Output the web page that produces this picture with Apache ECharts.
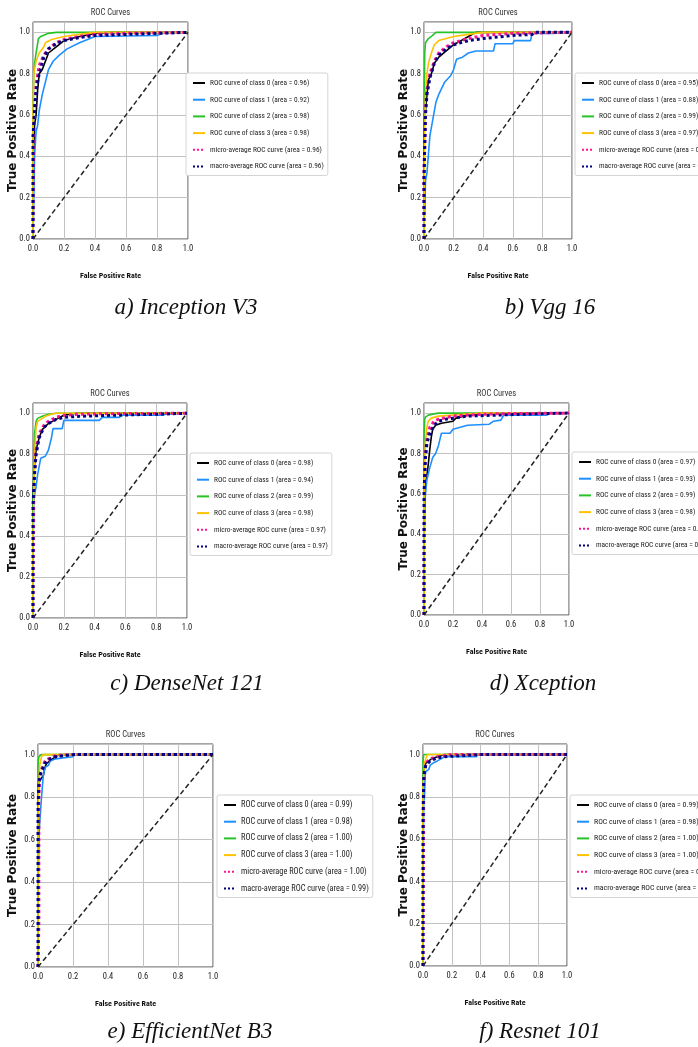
<!DOCTYPE html>
<html><head><meta charset="utf-8">
<script src="https://cdn.jsdelivr.net/npm/echarts@6/dist/echarts.min.js"></script>
<style>html,body{margin:0;padding:0;background:#fff}#c{width:698px;height:1047px}</style>
</head><body><div id="c"></div>
<script>
// ---------- DATA ----------
const captions = ['a) Inception V3', 'b) Vgg 16', 'c) DenseNet 121', 'd) Xception', 'e) EfficientNet B3', 'f) Resnet 101'];
const panelTitle = 'ROC Curves';
const xAxisName = 'False Positive Rate';
const yAxisName = 'True Positive Rate';
const tickValues = [0, 0.2, 0.4, 0.6, 0.8, 1.0];

const inceptionAuc = ['0.96', '0.92', '0.98', '0.98', '0.96', '0.96'];
const vggAuc = ['0.95', '0.88', '0.99', '0.97', '0.96', '0.95'];
const densenetAuc = ['0.98', '0.94', '0.99', '0.98', '0.97', '0.97'];
const xceptionAuc = ['0.97', '0.93', '0.99', '0.98', '0.97', '0.97'];
const efficientAuc = ['0.99', '0.98', '1.00', '1.00', '1.00', '0.99'];
const resnetAuc = ['0.99', '0.98', '1.00', '1.00', '0.99', '0.99'];

const diagonal = [[0, 0], [1, 1]];

// a) Inception V3
const inception_c0 = [[0,0],[0,0.3],[0.01,0.55],[0.02,0.6],[0.03,0.72],[0.04,0.8],[0.06,0.82],[0.08,0.86],[0.1,0.9],[0.15,0.93],[0.2,0.96],[0.3,0.98],[0.4,0.995],[0.5,1],[1,1]];
const inception_c1 = [[0,0],[0.005,0.2],[0.01,0.4],[0.02,0.52],[0.03,0.55],[0.04,0.62],[0.06,0.7],[0.08,0.76],[0.1,0.82],[0.13,0.86],[0.17,0.89],[0.22,0.92],[0.3,0.95],[0.4,0.98],[0.8,0.985],[0.85,1],[1,1]];
const inception_c2 = [[0,0],[0,0.55],[0.005,0.8],[0.01,0.85],[0.02,0.9],[0.035,0.97],[0.05,0.98],[0.1,0.995],[0.15,1],[1,1]];
const inception_c3 = [[0,0],[0,0.6],[0.005,0.8],[0.02,0.86],[0.04,0.9],[0.07,0.93],[0.08,0.95],[0.12,0.965],[0.2,0.98],[0.3,0.99],[0.4,1],[1,1]];
const inception_micro = [[0,0],[0,0.05],[0.005,0.5],[0.01,0.62],[0.02,0.75],[0.04,0.84],[0.07,0.89],[0.1,0.92],[0.15,0.95],[0.2,0.965],[0.3,0.98],[0.4,0.99],[0.6,0.995],[1,1]];
const inception_macro = [[0,0],[0,0.5],[0.01,0.62],[0.02,0.72],[0.04,0.8],[0.07,0.88],[0.1,0.92],[0.15,0.945],[0.2,0.96],[0.3,0.975],[0.4,0.985],[0.6,0.99],[0.8,0.995],[1,1]];

// b) Vgg 16
const vgg_c0 = [[0,0],[0,0.6],[0.01,0.62],[0.02,0.7],[0.03,0.77],[0.05,0.8],[0.07,0.85],[0.1,0.88],[0.15,0.91],[0.2,0.94],[0.25,0.96],[0.3,0.98],[0.35,1],[1,1]];
const vgg_c1 = [[0,0],[0,0.1],[0.005,0.13],[0.01,0.28],[0.02,0.32],[0.04,0.5],[0.06,0.58],[0.08,0.66],[0.1,0.7],[0.14,0.76],[0.18,0.79],[0.2,0.82],[0.22,0.87],[0.26,0.88],[0.3,0.9],[0.35,0.91],[0.47,0.91],[0.48,0.945],[0.6,0.945],[0.61,0.96],[0.72,0.96],[0.73,0.995],[0.85,0.995],[1,1]];
const vgg_c2 = [[0,0],[0,0.6],[0.005,0.9],[0.01,0.95],[0.03,0.97],[0.05,0.98],[0.08,1],[1,1]];
const vgg_c3 = [[0,0],[0,0.15],[0.005,0.5],[0.01,0.7],[0.02,0.8],[0.03,0.85],[0.05,0.9],[0.07,0.94],[0.1,0.96],[0.15,0.97],[0.2,0.98],[0.3,0.99],[0.4,1],[1,1]];
const vgg_micro = [[0,0],[0,0.3],[0.01,0.62],[0.02,0.72],[0.04,0.8],[0.07,0.86],[0.1,0.9],[0.15,0.93],[0.2,0.95],[0.3,0.97],[0.4,0.985],[0.6,0.995],[1,1]];
const vgg_macro = [[0,0],[0,0.3],[0.01,0.6],[0.02,0.7],[0.04,0.78],[0.07,0.85],[0.1,0.89],[0.15,0.92],[0.2,0.94],[0.3,0.96],[0.4,0.97],[0.6,0.985],[0.73,0.99],[0.75,1],[1,1]];

// c) DenseNet 121
const densenet_c0 = [[0,0],[0,0.6],[0.01,0.75],[0.02,0.82],[0.04,0.88],[0.06,0.92],[0.1,0.95],[0.15,0.97],[0.2,0.99],[0.28,1],[1,1]];
const densenet_c1 = [[0,0],[0,0.3],[0.005,0.55],[0.01,0.6],[0.02,0.64],[0.03,0.7],[0.05,0.78],[0.08,0.79],[0.1,0.82],[0.12,0.88],[0.13,0.925],[0.19,0.925],[0.2,0.965],[0.43,0.965],[0.45,0.98],[0.56,0.98],[0.58,0.99],[0.84,0.99],[0.86,0.995],[1,1]];
const densenet_c2 = [[0,0],[0,0.5],[0.005,0.8],[0.01,0.9],[0.02,0.96],[0.03,0.975],[0.06,0.985],[0.1,0.995],[0.15,1],[1,1]];
const densenet_c3 = [[0,0],[0,0.4],[0.01,0.8],[0.02,0.93],[0.03,0.96],[0.05,0.97],[0.08,0.985],[0.12,0.995],[0.15,1],[1,1]];
const densenet_micro = [[0,0],[0,0.1],[0.005,0.6],[0.01,0.72],[0.02,0.82],[0.04,0.9],[0.07,0.94],[0.1,0.96],[0.15,0.98],[0.2,0.99],[0.3,0.995],[0.5,0.998],[1,1]];
const densenet_macro = [[0,0],[0,0.55],[0.01,0.7],[0.02,0.8],[0.04,0.88],[0.07,0.93],[0.1,0.95],[0.15,0.97],[0.2,0.98],[0.3,0.985],[0.5,0.99],[0.8,0.995],[1,1]];

// d) Xception
const xception_c0 = [[0,0],[0,0.5],[0.01,0.65],[0.02,0.69],[0.03,0.75],[0.04,0.82],[0.05,0.88],[0.06,0.92],[0.08,0.94],[0.12,0.95],[0.2,0.96],[0.22,0.975],[0.3,0.99],[0.4,1],[1,1]];
const xception_c1 = [[0,0],[0,0.3],[0.005,0.5],[0.01,0.6],[0.02,0.67],[0.04,0.73],[0.06,0.78],[0.08,0.8],[0.1,0.84],[0.12,0.9],[0.18,0.9],[0.2,0.92],[0.25,0.93],[0.3,0.94],[0.45,0.945],[0.48,0.96],[0.53,0.965],[0.55,0.99],[0.85,0.99],[0.86,1],[1,1]];
const xception_c2 = [[0,0],[0,0.88],[0.005,0.97],[0.01,0.98],[0.03,0.99],[0.06,0.995],[0.1,1],[1,1]];
const xception_c3 = [[0,0],[0,0.6],[0.01,0.86],[0.02,0.93],[0.03,0.96],[0.05,0.975],[0.1,0.985],[0.2,0.99],[0.3,0.995],[0.4,1],[1,1]];
const xception_micro = [[0,0],[0,0.2],[0.005,0.7],[0.01,0.8],[0.02,0.87],[0.04,0.93],[0.07,0.96],[0.1,0.97],[0.2,0.985],[0.3,0.99],[0.5,0.997],[1,1]];
const xception_macro = [[0,0],[0,0.6],[0.01,0.78],[0.02,0.85],[0.04,0.9],[0.07,0.94],[0.1,0.96],[0.15,0.97],[0.2,0.975],[0.3,0.985],[0.5,0.99],[0.8,0.997],[1,1]];

// e) EfficientNet B3
const efficient_c0 = [[0,0],[0,0.8],[0.005,0.87],[0.02,0.89],[0.03,0.9],[0.04,0.94],[0.05,0.96],[0.07,0.97],[0.09,0.985],[0.12,1],[1,1]];
const efficient_c1 = [[0,0],[0,0.3],[0.005,0.6],[0.01,0.68],[0.02,0.8],[0.03,0.9],[0.04,0.94],[0.06,0.95],[0.07,0.97],[0.1,0.98],[0.2,0.99],[0.21,1],[1,1]];
const efficient_c2 = [[0,0],[0,0.95],[0.005,0.99],[0.02,1],[1,1]];
const efficient_c3 = [[0,0],[0,0.7],[0.005,0.85],[0.01,0.95],[0.02,0.99],[0.03,1],[1,1]];
const efficient_micro = [[0,0],[0.005,0.2],[0.005,0.8],[0.01,0.9],[0.02,0.93],[0.04,0.97],[0.06,0.98],[0.1,0.995],[0.2,1],[1,1]];
const efficient_macro = [[0,0],[0,0.75],[0.005,0.86],[0.01,0.9],[0.02,0.92],[0.04,0.96],[0.07,0.98],[0.1,0.99],[0.2,1],[1,1]];

// f) Resnet 101
const resnet_c0 = [[0,0],[0,0.8],[0.005,0.92],[0.01,0.94],[0.02,0.96],[0.04,0.97],[0.06,0.98],[0.1,0.99],[0.15,1],[1,1]];
const resnet_c1 = [[0,0],[0,0.4],[0.005,0.78],[0.01,0.8],[0.015,0.9],[0.02,0.92],[0.04,0.93],[0.05,0.95],[0.07,0.96],[0.1,0.97],[0.15,0.99],[0.37,0.99],[0.38,1],[1,1]];
const resnet_c2 = [[0,0],[0,0.97],[0.005,1],[1,1]];
const resnet_c3 = [[0,0],[0,0.85],[0.005,0.9],[0.01,0.96],[0.02,0.98],[0.03,1],[1,1]];
const resnet_micro = [[0,0],[0,0.1],[0.005,0.85],[0.01,0.92],[0.02,0.96],[0.05,0.98],[0.1,0.99],[0.2,1],[1,1]];
const resnet_macro = [[0,0],[0,0.7],[0.005,0.88],[0.01,0.92],[0.02,0.95],[0.05,0.97],[0.1,0.985],[0.15,0.99],[0.4,1],[1,1]];

// ---------- ASSEMBLY ----------
const panelCurves = [
  [inception_c0, inception_c1, inception_c2, inception_c3, inception_micro, inception_macro],
  [vgg_c0, vgg_c1, vgg_c2, vgg_c3, vgg_micro, vgg_macro],
  [densenet_c0, densenet_c1, densenet_c2, densenet_c3, densenet_micro, densenet_macro],
  [xception_c0, xception_c1, xception_c2, xception_c3, xception_micro, xception_macro],
  [efficient_c0, efficient_c1, efficient_c2, efficient_c3, efficient_micro, efficient_macro],
  [resnet_c0, resnet_c1, resnet_c2, resnet_c3, resnet_micro, resnet_macro]
];
const panelAuc = [inceptionAuc, vggAuc, densenetAuc, xceptionAuc, efficientAuc, resnetAuc];

// layout (positions / styles only)
const grids = [
  {left: 33, top: 22, width: 155, height: 217},
  {left: 424, top: 22, width: 148, height: 217},
  {left: 33, top: 403, width: 154, height: 215},
  {left: 424, top: 403, width: 145, height: 212},
  {left: 38, top: 744, width: 175, height: 223},
  {left: 423, top: 744, width: 144, height: 222}
];
const legendPos = [
  {left: 186, top: 73, fs: 7.4}, {left: 575, top: 73, fs: 7.4},
  {left: 190, top: 453, fs: 7.4}, {left: 572, top: 452, fs: 7.4},
  {left: 217, top: 795, fs: 8.3}, {left: 570, top: 795, fs: 7.8}
];
const yNameGap = [14, 14, 14, 14, 19, 13];
const captionPos = [[186, 308], [550, 308], [187, 684], [543, 684], [190, 1032], [540, 1032]];

const NARROW = '"Roboto Condensed", "DejaVu Sans Condensed", sans-serif';
const colors = ['#000000', '#1e8fff', '#27c427', '#ffc200', '#ff1493', '#000080'];

function curveName(k, auc) {
  if (k < 4) return 'ROC curve of class ' + k + ' (area = ' + auc + ')';
  return (k === 4 ? 'micro' : 'macro') + '-average ROC curve (area = ' + auc + ')';
}

const option = {
  animation: false,
  backgroundColor: '#fff',
  grid: [], xAxis: [], yAxis: [], legend: [], series: [], graphic: []
};

grids.forEach((g, i) => {
  option.grid.push(Object.assign({show: true, borderColor: '#4a4a4a', borderWidth: 1, backgroundColor: '#fff'}, g));
  option.xAxis.push({
    gridIndex: i, type: 'value', min: tickValues[0], max: tickValues[tickValues.length - 1], interval: 0.2,
    name: xAxisName, nameLocation: 'middle', nameGap: 33, nameMoveOverlap: false,
    nameTextStyle: {fontFamily: NARROW, fontWeight: 'bold', fontSize: 8, color: '#111'},
    axisLine: {show: false}, axisTick: {show: false},
    axisLabel: {formatter: v => v.toFixed(1), fontFamily: NARROW, fontSize: 8.5, color: '#222', margin: 5},
    splitLine: {show: true, lineStyle: {color: '#c2c2c2', width: 1}}
  });
  option.yAxis.push({
    gridIndex: i, type: 'value', min: 0, max: 1.05, interval: 0.2,
    name: yAxisName, nameLocation: 'middle', nameGap: yNameGap[i], nameMoveOverlap: false,
    nameTextStyle: {fontFamily: '"DejaVu Sans", sans-serif', fontWeight: 'bold', fontSize: 12, color: '#111'},
    axisLine: {show: false}, axisTick: {show: false},
    axisLabel: {formatter: v => (v > 1.001 ? '' : v.toFixed(1)), showMaxLabel: false, fontFamily: NARROW, fontSize: 8.5, color: '#222', margin: 3},
    splitLine: {show: true, lineStyle: {color: '#c2c2c2', width: 1}}
  });
  const names = [];
  panelCurves[i].forEach((curve, k) => {
    const name = curveName(k, panelAuc[i][k]);
    names.push(name);
    const avg = k >= 4;
    option.series.push({
      type: 'line', name: name, xAxisIndex: i, yAxisIndex: i, data: curve,
      symbol: 'none', silent: true, z: avg ? 4 : 3,
      color: colors[k],
      lineStyle: {color: colors[k], width: avg ? 3 : 1.6, type: avg ? 'dotted' : 'solid', cap: 'butt'}
    });
  });
  option.series.push({
    type: 'line', name: '_diag' + i, xAxisIndex: i, yAxisIndex: i, data: diagonal,
    symbol: 'none', silent: true, z: 5,
    lineStyle: {color: '#222', width: 1.5, type: [5, 3]}
  });
  const lp = legendPos[i];
  option.legend.push({
    left: lp.left, top: lp.top, orient: 'vertical', data: names,
    itemWidth: 12, itemHeight: 10, itemGap: 8.7, padding: [6, 4, 5, 6],
    borderColor: '#d4d4d4', borderWidth: 1, borderRadius: 2, backgroundColor: '#fff',
    selectedMode: false,
    itemStyle: {opacity: 0},
    textStyle: {fontFamily: NARROW, fontSize: lp.fs, color: '#222'}
  });
  option.graphic.push({
    type: 'text', x: g.left + g.width / 2, y: g.top - 9,
    style: {text: panelTitle, font: '8.5px ' + NARROW, fill: '#333', textAlign: 'center', textVerticalAlign: 'middle'}
  });
  option.graphic.push({
    type: 'text', x: captionPos[i][0], y: captionPos[i][1],
    style: {text: captions[i], font: 'italic 23px "Liberation Serif", "Times New Roman", serif', fill: '#111', textAlign: 'center', textVerticalAlign: 'middle'}
  });
});

const chart = echarts.init(document.getElementById('c'), null, {renderer: 'canvas'});
chart.setOption(option);
</script></body></html>
